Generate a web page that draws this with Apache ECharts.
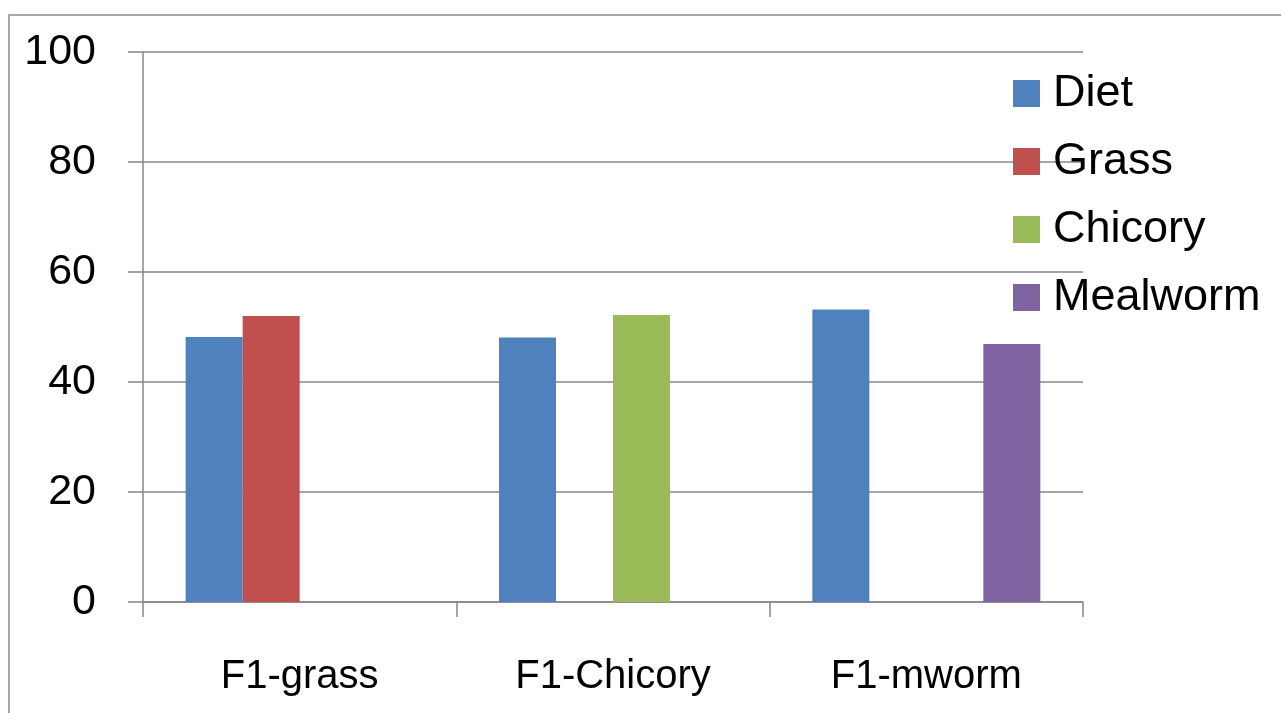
<!DOCTYPE html>
<html>
<head>
<meta charset="utf-8">
<script src="https://cdn.jsdelivr.net/npm/echarts@6/dist/echarts.min.js"></script>
<style>
html,body{margin:0;padding:0;background:#fff;}
#chart{width:1281px;height:713px;}
</style>
</head>
<body>
<div id="chart"></div>
<script>
var categories = ['F1-grass', 'F1-Chicory', 'F1-mworm'];
var seriesNames = ['Diet', 'Grass', 'Chicory', 'Mealworm'];
var diet = [48.2, 48.1, 53.2];
var grass = [52.0, 0, 0];
var chicory = [0, 52.2, 0];
var mealworm = [0, 0, 46.9];
var yTicks = [0, 20, 40, 60, 80, 100];

var colors = ['#4F81BD', '#C0504D', '#9BBB59', '#8064A2'];
var values = [diet, grass, chicory, mealworm];
var font = '"Liberation Sans", Arial, sans-serif';
var gray = '#878787';

var chart = echarts.init(document.getElementById('chart'));
chart.setOption({
  animation: false,
  color: colors,
  graphic: [{
    type: 'rect',
    shape: { x: 9, y: 15, width: 1300, height: 720 },
    style: { fill: 'none', stroke: '#8a8a8a', lineWidth: 1.5 },
    silent: true
  }],
  legend: {
    orient: 'vertical',
    left: 1013,
    top: 71,
    padding: 0,
    itemWidth: 27,
    itemHeight: 27,
    itemGap: 23,
    icon: 'rect',
    data: seriesNames,
    textStyle: { fontFamily: font, fontSize: 45, lineHeight: 45, color: '#000', padding: [0, 0, 0, 8] }
  },
  grid: { left: 143, right: 198, top: 52, bottom: 111, containLabel: false },
  xAxis: {
    type: 'category',
    data: categories,
    axisLine: { show: true, lineStyle: { color: gray, width: 1.5 } },
    axisTick: { show: true, length: 15, alignWithLabel: false, lineStyle: { color: gray, width: 1.5 } },
    axisLabel: { fontFamily: font, fontSize: 40, color: '#000', margin: 55 },
    splitLine: { show: false }
  },
  yAxis: {
    type: 'value',
    min: yTicks[0],
    max: yTicks[yTicks.length - 1],
    interval: yTicks[1] - yTicks[0],
    axisLine: { show: true, lineStyle: { color: gray, width: 1.5 } },
    axisTick: { show: true, length: 15, lineStyle: { color: gray, width: 1.5 } },
    axisLabel: { fontFamily: font, fontSize: 43, color: '#000', margin: 47 },
    splitLine: { show: true, lineStyle: { color: gray, width: 1.5 } }
  },
  series: seriesNames.map(function (n, i) {
    return {
      name: n,
      type: 'bar',
      data: values[i],
      barWidth: 57,
      barGap: '0%',
      itemStyle: { color: colors[i] }
    };
  })
});
</script>
</body>
</html>
